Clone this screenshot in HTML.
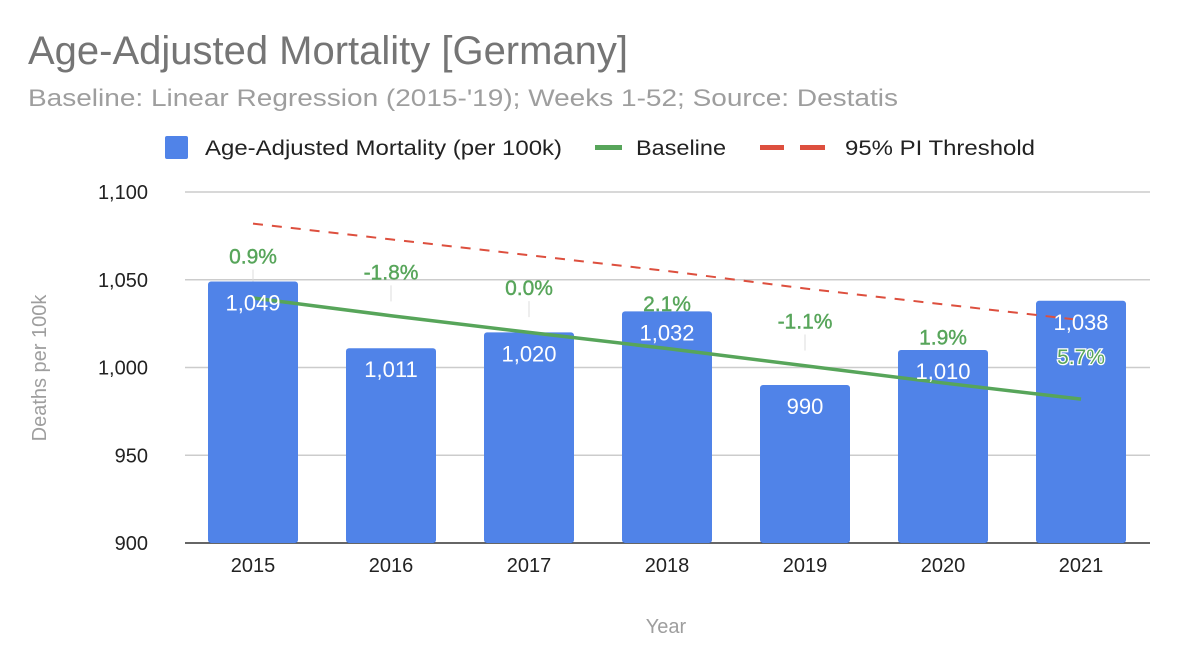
<!DOCTYPE html>
<html><head><meta charset="utf-8"><style>
html,body{margin:0;padding:0;background:#fff;}
svg{display:block;font-family:"Liberation Sans",Arial,sans-serif;}
</style></head><body>
<svg id="chart" width="1200" height="670" viewBox="0 0 1200 670">
<text x="28" y="64" font-size="40" fill="#757575" textLength="600" lengthAdjust="spacingAndGlyphs">Age-Adjusted Mortality [Germany]</text>
<text x="28" y="106" font-size="24" fill="#9e9e9e" textLength="870" lengthAdjust="spacingAndGlyphs">Baseline: Linear Regression (2015-'19); Weeks 1-52; Source: Destatis</text>
<g>
<g><rect x="165" y="136" width="23" height="23" rx="2" fill="#5083e8"/><text x="205" y="155" font-size="21" fill="#222" textLength="357" lengthAdjust="spacingAndGlyphs">Age-Adjusted Mortality (per 100k)</text></g>
<g><rect x="595" y="145" width="27" height="5" fill="#57a55a"/><text x="636" y="155" font-size="21" fill="#222" textLength="90" lengthAdjust="spacingAndGlyphs">Baseline</text></g>
<g><rect x="760" y="145" width="24" height="5" fill="#dd4f3e"/><rect x="800" y="145" width="25" height="5" fill="#dd4f3e"/><text x="845" y="155" font-size="21" fill="#222" textLength="190" lengthAdjust="spacingAndGlyphs">95% PI Threshold</text></g>
</g>
<g id="grid"></g><g id="bars"></g><g id="lines"></g><g id="labels"></g>
<text transform="translate(46,368) rotate(-90)" text-anchor="middle" font-size="20" fill="#9e9e9e">Deaths per 100k</text>
<text x="666" y="633" text-anchor="middle" font-size="20" fill="#9e9e9e">Year</text>
</svg>
<script>
const years=["2015","2016","2017","2018","2019","2020","2021"];
const mortality=[1049,1011,1020,1032,990,1010,1038];
const baseline=[1039.6,1029.5,1020,1010.8,1001,991.2,982];
const threshold=[1082,1073,1064,1055,1045,1036,1027];
const pctLabels=["0.9%","-1.8%","0.0%","2.1%","-1.1%","1.9%","5.7%"];
const yTicks=[900,950,1000,1050,1100];
const yTickLabels=["900","950","1,000","1,050","1,100"];
const NS="http://www.w3.org/2000/svg";
const y0=543,y1=192,vmin=900,vmax=1100;
function y(v){return y0-(v-vmin)/(vmax-vmin)*(y0-y1);}
function x(i){return 253+i*138;}
function mk(tag,attrs,parent){const e=document.createElementNS(NS,tag);for(const k in attrs)e.setAttribute(k,attrs[k]);document.getElementById(parent).appendChild(e);return e;}
yTicks.forEach((t,i)=>{
 const l=mk("line",{x1:185,x2:1150,y1:y(t),y2:y(t),stroke:i==0?"#333":"#ccc","stroke-width":1.5},"grid");
 
 
 const tx=mk("text",{x:148,y:y(t)+7,"text-anchor":"end","font-size":20,fill:"#222"},"grid");tx.textContent=yTickLabels[i];
 
 
});
years.forEach((yr,i)=>{
 const b=mk("rect",{x:x(i)-45,y:y(mortality[i]),width:90,height:y0-y(mortality[i]),rx:3,fill:"#5083e8"},"bars");
 
 
 const v=mk("text",{x:x(i),y:y(mortality[i])+29,"text-anchor":"middle","font-size":22,fill:"#fff"},"labels");v.textContent=mortality[i].toLocaleString("en-US");
 
 
 const xl=mk("text",{x:x(i),y:572,"text-anchor":"middle","font-size":20,fill:"#222"},"labels");xl.textContent=yr;
 
 
 const py=y(threshold[i])+40;
 const p=mk("text",{x:x(i),y:i==6?py+4:py,"text-anchor":"middle","font-size":21,fill:"#57a55a",stroke:i==6?"#fff":"#57a55a","stroke-width":i==6?2.5:0.4,"paint-order":"stroke"},"labels");p.textContent=pctLabels[i];
 
 
 if(i<5){const ll=mk("line",{x1:x(i),x2:x(i),y1:py+6,y2:py+22,stroke:"#ddd","stroke-width":1},"grid");
 
 }
});
const bl=mk("polyline",{points:baseline.map((v,i)=>x(i)+","+y(v)).join(" "),fill:"none",stroke:"#57a55a","stroke-width":3.5},"lines");


const th=mk("polyline",{points:threshold.map((v,i)=>x(i)+","+y(v)).join(" "),fill:"none",stroke:"#dd4f3e","stroke-width":2,"stroke-dasharray":"10 9"},"lines");


</script>
</body></html>
